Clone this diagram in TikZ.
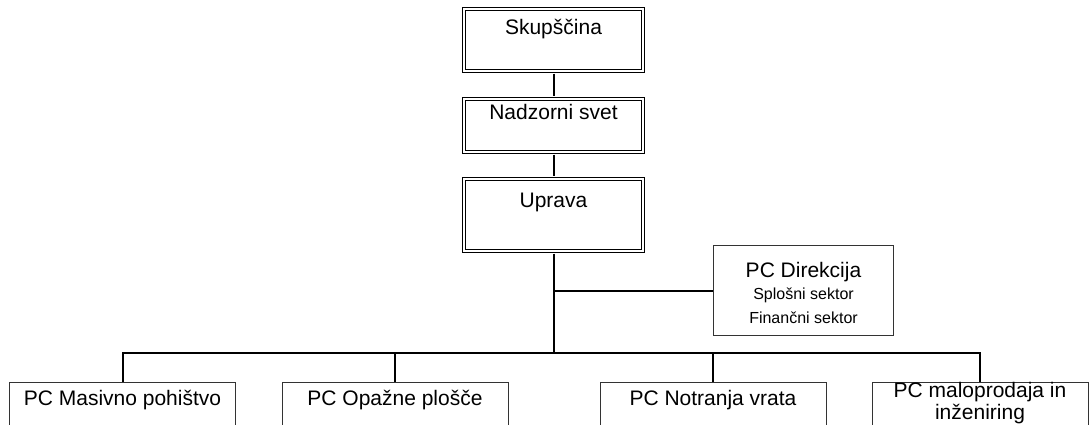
\documentclass[tikz,border=0pt]{standalone}
\usepackage{fontspec}
\setmainfont{Liberation Sans}
\usetikzlibrary{positioning}

\tikzset{
  organ/.style={draw=black, double, double distance=1.5pt, line width=1.4pt,
    minimum width=179pt, inner sep=0pt, font=\fontsize{21}{24}\selectfont},
  unit/.style={draw=black!80, line width=0.8pt, inner sep=0pt, align=flush center,
    text height=23pt, text depth=37pt, font=\fontsize{21}{22.5}\selectfont},
  staff/.style={draw=black!80, line width=0.8pt, inner sep=0pt, align=flush center,
    text width=180pt, text height=32pt, text depth=58pt,
    font=\fontsize{21}{24}\selectfont},
  link/.style={line width=2pt},
}

\begin{document}
\begin{tikzpicture}[x=1pt,y=1pt]
\useasboundingbox (0,0) rectangle (1092,-425);
% management:
\node[organ, text height=26pt, text depth=36pt] (skupscina) at (553.5,-40) {Skupščina};
\node[organ, text height=20.3pt, text depth=32.7pt] (nadzorni) at (553.5,-125.5) {Nadzorni svet};
\node[organ, text height=28.3pt, text depth=43.7pt] (uprava) at (553.5,-215) {Uprava};
\node[staff] (direkcija) at (803.5,-290.5) {PC Direkcija\\[3.5pt]
  {\fontsize{16}{18.5}\selectfont Splošni sektor\\Finančni sektor}};
% profit centres:
\node[unit, text width=226pt] (masivno) at (122.5,-412) {PC Masivno pohištvo};
\node[unit, text width=226pt] (opazne) at (395,-412) {PC Opažne plošče};
\node[unit, text width=226pt] (notranja) at (713,-412) {PC Notranja vrata};
\node[unit, text width=216pt, text height=15pt, text depth=45pt] (malo) at (980,-412)
  {PC maloprodaja in\\inženiring};
\coordinate (hub) at (553.5,-353);
% links:
\draw[link, shorten <=2pt, shorten >=2pt] (skupscina) -- (nadzorni);
\draw[link, shorten <=2pt, shorten >=2pt] (nadzorni) -- (uprava);
\draw[link, shorten <=2pt] (uprava) -- (hub);
\draw[link] (uprava |- direkcija.west) -- (direkcija.west);
\draw[link] (masivno.north) |- (hub) -| (malo.north);
\draw[link] (opazne.north) -- (opazne.north |- hub);
\draw[link] (notranja.north) -- (notranja.north |- hub);
\end{tikzpicture}
\end{document}
